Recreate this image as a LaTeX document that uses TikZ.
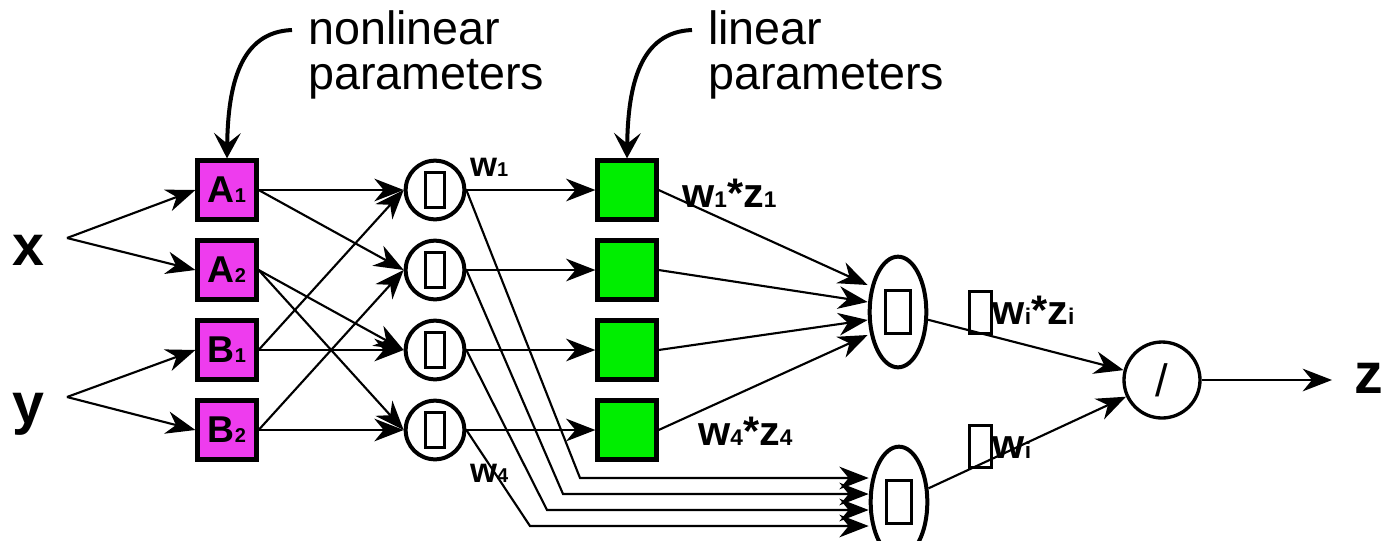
\documentclass[tikz,border=0pt]{standalone}
\usepackage{fontspec}
\setmainfont{Liberation Sans}
\usetikzlibrary{arrows.meta,shapes.geometric,calc}
\definecolor{mfpurple}{RGB}{238,60,238}
\definecolor{mfgreen}{RGB}{0,238,0}
\newcommand\tofubox[3]{{\setlength\fboxsep{0pt}\setlength\fboxrule{#3}\fbox{\rule{0pt}{#2}\hspace{#1}}}}
\newcommand\sbs[2][17]{{\fontsize{#1}{#1}\selectfont #2}}
\begin{document}
\begin{tikzpicture}[x=0.75pt,y=-0.75pt,
  conn/.style={line width=1.6pt,-{Stealth[length=22pt,width=17pt,inset=7pt]}},
  bigarrow/.style={line width=3pt,-{Stealth[length=19pt,width=20pt,inset=8pt]}},
  mfbox/.style={draw,line width=3.4pt,fill=mfpurple,minimum size=44pt,inner sep=0pt,font=\fontsize{28}{28}\selectfont\bfseries},
  linbox/.style={draw,line width=3.4pt,fill=mfgreen,minimum size=44pt,inner sep=0pt},
  prodnode/.style={draw,circle,line width=3pt,minimum size=44pt,inner sep=0pt},
  sumnode/.style={draw,ellipse,line width=3pt,minimum width=42.5pt,minimum height=83pt,inner sep=0pt},
  divnode/.style={draw,circle,line width=2.5pt,minimum size=57pt,inner sep=0pt,font=\fontsize{34}{34}\selectfont},
  varlab/.style={font=\fontsize{43}{43}\selectfont\bfseries,inner sep=0pt,anchor=base west},
  wlab/.style={font=\fontsize{31}{31}\selectfont\bfseries,inner sep=0pt,anchor=base west},
  smalllab/.style={font=\fontsize{26}{26}\selectfont\bfseries,inner sep=0pt,anchor=base west},
  note/.style={font=\fontsize{35}{34}\selectfont,align=left,inner sep=0pt,anchor=north west}
]
\useasboundingbox (0,0) rectangle (1385,540);

% inputs
\node[varlab] (x) at (12,265) {x};
\node[varlab] (y) at (12,423) {y};
\coordinate (xo) at (67,238);
\coordinate (yo) at (67,397);

% membership boxes
\node[mfbox] (A1) at (227,190) {A\sbs[15]{1}};
\node[mfbox] (A2) at (227,270) {A\sbs[15]{2}};
\node[mfbox] (B1) at (227,350) {B\sbs[15]{1}};
\node[mfbox] (B2) at (227,430) {B\sbs[15]{2}};

% product nodes
\node[prodnode] (P1) at (435,190) {\tofubox{12pt}{24pt}{2.2pt}};
\node[prodnode] (P2) at (435,270) {\tofubox{12pt}{24pt}{2.2pt}};
\node[prodnode] (P3) at (435,350) {\tofubox{12pt}{24pt}{2.2pt}};
\node[prodnode] (P4) at (435,430) {\tofubox{12pt}{24pt}{2.2pt}};

% linear boxes
\node[linbox] (G1) at (627,190) {};
\node[linbox] (G2) at (627,270) {};
\node[linbox] (G3) at (627,350) {};
\node[linbox] (G4) at (627,430) {};

% sums
\node[sumnode] (S1) at (898,312) {\tofubox{16pt}{30pt}{2.4pt}};
\node[sumnode] (S2) at (899,502) {\tofubox{16pt}{30pt}{2.4pt}};

% divide
\node[divnode] (D) at (1162,380) {/};
\node[varlab] (z) at (1354,393) {z};

% notes
\node[note] (nl) at (308,10) {nonlinear\\parameters};
\node[note] (ln) at (708,10) {linear\\parameters};
\coordinate (nls) at (292,30);
\coordinate (lns) at (692,30);
\draw[bigarrow] (nls) .. controls (240,32) and (228,85) .. (A1.north);
\draw[bigarrow] (lns) .. controls (640,32) and (628,85) .. (G1.north);

% labels
\node[smalllab] (w1) at (470,176) {w\sbs[15]{1}};
\node[smalllab] (w4) at (470,482) {w\sbs[15]{4}};
\node[wlab] (w1z1) at (682,207) {w\sbs{1}*z\sbs{1}};
\node[wlab] (w4z4) at (698,445) {w\sbs{4}*z\sbs{4}};
\node[wlab] (swz) at (968,324) {\raisebox{-6pt}{\tofubox{14.4pt}{29.4pt}{2pt}}w\sbs{i}*z\sbs{i}};
\node[wlab] (sw) at (968,458) {\raisebox{-6pt}{\tofubox{14.4pt}{29.4pt}{2pt}}w\sbs{i}};

% input connectors
\draw[conn] (xo) -- (A1.west);
\draw[conn] (xo) -- (A2.west);
\draw[conn] (yo) -- (B1.west);
\draw[conn] (yo) -- (B2.west);

% layer 1 -> 2
\draw[conn] (A1.east) -- (P1.west);
\draw[conn] (A1.east) -- (P2.west);
\draw[conn] (A2.east) -- (P3.west);
\draw[conn] (A2.east) -- (P4.west);
\draw[conn] (B1.east) -- (P1.west);
\draw[conn] (B1.east) -- (P3.west);
\draw[conn] (B2.east) -- (P2.west);
\draw[conn] (B2.east) -- (P4.west);

% layer 2 -> linear boxes
\draw[conn] (P1.east) -- (G1.west);
\draw[conn] (P2.east) -- (G2.west);
\draw[conn] (P3.east) -- (G3.west);
\draw[conn] (P4.east) -- (G4.west);

% layer 2 -> lower sum
\draw[conn] (P1.east) -- (580,478) -- ($(S2.west)+(0,-24)$);
\draw[conn] (P2.east) -- (563,494) -- ($(S2.west)+(0,-8)$);
\draw[conn] (P3.east) -- (547,510) -- ($(S2.west)+(0,8)$);
\draw[conn] (P4.east) -- (530,526) -- ($(S2.west)+(0,24)$);

% linear boxes -> upper sum
\draw[conn] (G1.east) -- ($(S1.west)+(0,-27)$);
\draw[conn] (G2.east) -- ($(S1.west)+(0,-10)$);
\draw[conn] (G3.east) -- ($(S1.west)+(0,8)$);
\draw[conn] (G4.east) -- ($(S1.west)+(0,23)$);

% sums -> divide -> z
\draw[conn] (S1) -- (D);
\draw[conn] (S2) -- (D);
\draw[conn] (D.east) -- ($(D.east -| z.west)+(-22,0)$);
\end{tikzpicture}
\end{document}
